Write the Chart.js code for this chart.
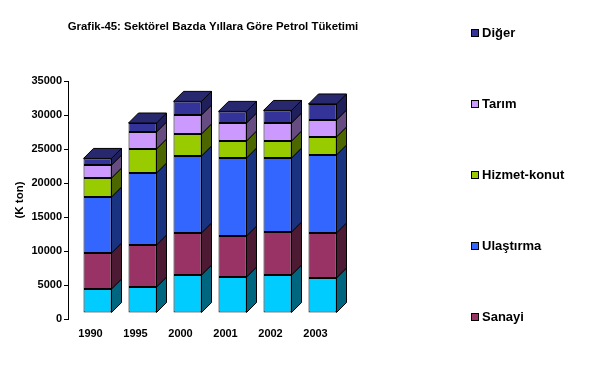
<!DOCTYPE html>
<html>
<head>
<meta charset="utf-8">
<script src="https://cdn.jsdelivr.net/npm/chart.js@4/dist/chart.umd.min.js"></script>
<style>
html,body{margin:0;padding:0;background:#fff;}
#wrap{width:600px;height:369px;}
</style>
</head>
<body>
<div id="wrap"><canvas id="c" width="600" height="369"></canvas></div>
<script>
const categories = ['1990', '1995', '2000', '2001', '2002', '2003'];
// bottom (cyan) series – its legend entry is cut off in the original
const enerji     = [3530, 3820, 5590, 5290, 5590, 5150];
const sanayi     = [5290, 6180, 6180, 6030, 6320, 6620];
const ulastirma  = [8240, 10590, 11320, 11470, 10880, 11470];
const hizmet     = [2790, 3530, 3240, 2500, 2500, 2650];
const tarim      = [1910, 2500, 2790, 2650, 2650, 2500];
const diger      = [970, 1320, 2000, 1710, 1850, 2350];
const yTicks     = [0, 5000, 10000, 15000, 20000, 25000, 30000, 35000];
const titleText  = 'Grafik-45: Sektörel Bazda Yıllara Göre Petrol Tüketimi';
const yTitle     = '(K ton)';

const FONT = '"Liberation Sans", Arial, sans-serif';
const series = [
  {label: 'Enerji',       data: enerji,    color: '#00CCFF', side: '#006680', legend: false},
  {label: 'Sanayi',       data: sanayi,    color: '#993366', side: '#4C1A33', legend: true},
  {label: 'Ulaştırma',    data: ulastirma, color: '#3366FF', side: '#1A3380', legend: true},
  {label: 'Hizmet-konut', data: hizmet,    color: '#99CC00', side: '#4C6600', legend: true},
  {label: 'Tarım',        data: tarim,     color: '#CC99FF', side: '#664C80', legend: true},
  {label: 'Diğer',        data: diger,     color: '#333399', side: '#1F1F5C', top: '#28286E', legend: true}
];

const DX = 7, DY = -6, D = 10;

const threeD = {
  id: 'threeD',
  beforeDatasetsDraw(chart) {
    chart.ctx.save();
    chart.ctx.translate(DX, DY);
  },
  afterDatasetsDraw(chart) {
    const ctx = chart.ctx;
    ctx.lineWidth = 1;
    ctx.strokeStyle = '#000';
    const n = chart.data.datasets.length;
    for (let i = 0; i < n; i++) {
      const meta = chart.getDatasetMeta(i);
      const s = series[i];
      meta.data.forEach(el => {
        const p = el.getProps(['x', 'y', 'base', 'width'], true);
        const l = p.x - p.width / 2, r = p.x + p.width / 2;
        const t = Math.min(p.y, p.base), b = Math.max(p.y, p.base);
        ctx.beginPath();
        ctx.moveTo(r, t); ctx.lineTo(r + D, t - D); ctx.lineTo(r + D, b - D); ctx.lineTo(r, b); ctx.closePath();
        ctx.fillStyle = s.side; ctx.fill(); ctx.stroke();
        if (i === n - 1) {
          ctx.beginPath();
          ctx.moveTo(l, t); ctx.lineTo(l + D, t - D); ctx.lineTo(r + D, t - D); ctx.lineTo(r, t); ctx.closePath();
          ctx.fillStyle = s.top; ctx.fill(); ctx.stroke();
        }
      });
    }
    ctx.restore();
  },
  afterDraw(chart) {
    const ctx = chart.ctx;
    ctx.save();
    ctx.fillStyle = '#000';
    // title
    ctx.font = 'bold 11.4px ' + FONT;
    ctx.textAlign = 'center'; ctx.textBaseline = 'middle';
    ctx.fillText(titleText, 213, 27);
    // y title
    ctx.save();
    ctx.translate(20, 200);
    ctx.rotate(-Math.PI / 2);
    ctx.font = 'bold 11.5px ' + FONT;
    ctx.fillText(yTitle, 0, 0);
    ctx.restore();
    // legend (reverse order, bottom series cut off)
    ctx.font = 'bold 13px ' + FONT;
    ctx.textAlign = 'left';
    const items = series.filter(s => s.legend).reverse();
    items.forEach((s, k) => {
      const y = 32.5 + k * 71;
      ctx.fillStyle = s.color;
      ctx.fillRect(471, Math.round(y - 4), 7, 7);
      ctx.strokeStyle = '#000'; ctx.lineWidth = 1;
      ctx.strokeRect(471.5, Math.round(y - 4) + 0.5, 7, 7);
      ctx.fillStyle = '#000';
      ctx.fillText(s.label, 482, y + 1);
    });
    ctx.restore();
  }
};

new Chart(document.getElementById('c'), {
  type: 'bar',
  data: {
    labels: categories,
    datasets: series.map(s => ({
      label: s.label,
      data: s.data,
      backgroundColor: s.color,
      borderColor: '#000',
      borderWidth: 1,
      borderSkipped: false,
      categoryPercentage: 28 / 45,
      barPercentage: 1,
      clip: false
    }))
  },
  options: {
    responsive: false,
    animation: false,
    layout: {padding: {left: 0, right: 262, top: 81, bottom: 0}},
    plugins: {legend: {display: false}, title: {display: false}, tooltip: {enabled: false}},
    scales: {
      x: {
        stacked: true,
        grid: {display: false},
        border: {display: false},
        ticks: {color: '#000', font: {family: FONT, size: 11, weight: 'bold'}, padding: 0, maxRotation: 0},
        afterFit: s => { s.height = 50; }
      },
      y: {
        stacked: true,
        min: 0, max: 35000,
        afterBuildTicks: s => { s.ticks = yTicks.map(v => ({value: v})); },
        grid: {display: true, drawOnChartArea: false, drawTicks: true, tickLength: 4, color: '#000'},
        border: {display: true, color: '#000'},
        ticks: {color: '#000', font: {family: FONT, size: 11, weight: 'bold'}, padding: 2, callback: v => String(v)},
        afterFit: s => { s.width = 68; }
      }
    }
  },
  plugins: [threeD]
});
</script>
</body>
</html>
